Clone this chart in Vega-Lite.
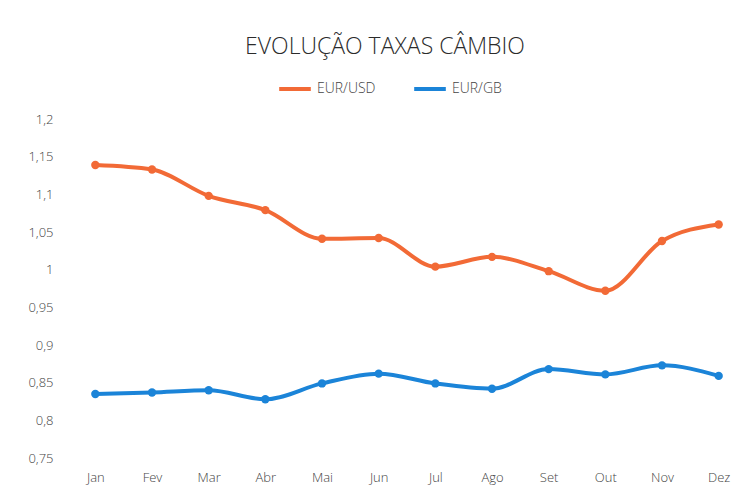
{
  "$schema": "https://vega.github.io/schema/vega-lite/v6.json",
  "width": 680,
  "height": 339,
  "autosize": {"type": "none"},
  "padding": {"left": 67, "top": 119, "right": 9, "bottom": 30},
  "background": "#ffffff",
  "title": {
    "text": "EVOLUÇÃO TAXAS CÂMBIO",
    "anchor": "middle",
    "dx": -22,
    "fontSize": 23,
    "font": "Open Sans",
    "fontWeight": 300,
    "color": "#2b2b2b",
    "offset": 12
  },
  "data": {
    "values": [
      {"mes": "Jan", "serie": "EUR/USD", "taxa": 1.139},
      {"mes": "Fev", "serie": "EUR/USD", "taxa": 1.133},
      {"mes": "Mar", "serie": "EUR/USD", "taxa": 1.098},
      {"mes": "Abr", "serie": "EUR/USD", "taxa": 1.079},
      {"mes": "Mai", "serie": "EUR/USD", "taxa": 1.041},
      {"mes": "Jun", "serie": "EUR/USD", "taxa": 1.042},
      {"mes": "Jul", "serie": "EUR/USD", "taxa": 1.004},
      {"mes": "Ago", "serie": "EUR/USD", "taxa": 1.017},
      {"mes": "Set", "serie": "EUR/USD", "taxa": 0.998},
      {"mes": "Out", "serie": "EUR/USD", "taxa": 0.972},
      {"mes": "Nov", "serie": "EUR/USD", "taxa": 1.038},
      {"mes": "Dez", "serie": "EUR/USD", "taxa": 1.060},
      {"mes": "Jan", "serie": "EUR/GB", "taxa": 0.835},
      {"mes": "Fev", "serie": "EUR/GB", "taxa": 0.837},
      {"mes": "Mar", "serie": "EUR/GB", "taxa": 0.840},
      {"mes": "Abr", "serie": "EUR/GB", "taxa": 0.828},
      {"mes": "Mai", "serie": "EUR/GB", "taxa": 0.849},
      {"mes": "Jun", "serie": "EUR/GB", "taxa": 0.862},
      {"mes": "Jul", "serie": "EUR/GB", "taxa": 0.849},
      {"mes": "Ago", "serie": "EUR/GB", "taxa": 0.842},
      {"mes": "Set", "serie": "EUR/GB", "taxa": 0.868},
      {"mes": "Out", "serie": "EUR/GB", "taxa": 0.861},
      {"mes": "Nov", "serie": "EUR/GB", "taxa": 0.873},
      {"mes": "Dez", "serie": "EUR/GB", "taxa": 0.859}
    ]
  },
  "mark": {
    "type": "line",
    "interpolate": "monotone",
    "strokeWidth": 4,
    "point": {"filled": true, "size": 70, "opacity": 1}
  },
  "encoding": {
    "x": {
      "field": "mes",
      "type": "ordinal",
      "sort": ["Jan", "Fev", "Mar", "Abr", "Mai", "Jun", "Jul", "Ago", "Set", "Out", "Nov", "Dez"],
      "scale": {"type": "point", "padding": 0.5},
      "axis": {
        "title": null,
        "labelAngle": 0,
        "domain": false,
        "ticks": false,
        "grid": false,
        "labelPadding": 13,
        "labelFontSize": 13,
        "labelFont": "Open Sans",
        "labelFontWeight": 300,
        "labelColor": "#444444"
      }
    },
    "y": {
      "field": "taxa",
      "type": "quantitative",
      "scale": {"domain": [0.75, 1.2], "nice": false, "zero": false},
      "axis": {
        "title": null,
        "values": [0.75, 0.8, 0.85, 0.9, 0.95, 1, 1.05, 1.1, 1.15, 1.2],
        "labelExpr": "replace(format(datum.value, '.2~f'), '.', ',')",
        "domain": false,
        "ticks": false,
        "grid": false,
        "labelPadding": 14,
        "labelFontSize": 13,
        "labelFont": "Open Sans",
        "labelFontWeight": 300,
        "labelColor": "#444444"
      }
    },
    "color": {
      "field": "serie",
      "type": "nominal",
      "scale": {"domain": ["EUR/USD", "EUR/GB"], "range": ["#F26A36", "#1B84D8"]},
      "legend": {
        "title": null,
        "orient": "none",
        "direction": "horizontal",
        "legendX": 210,
        "legendY": -48,
        "symbolType": "stroke",
        "symbolStrokeWidth": 4,
        "symbolSize": 1000,
        "labelFontSize": 14,
        "labelFont": "Open Sans",
        "labelFontWeight": 300,
        "labelColor": "#444444",
        "columnPadding": 30,
        "labelOffset": 4
      }
    }
  },
  "config": {"view": {"stroke": null}}
}
